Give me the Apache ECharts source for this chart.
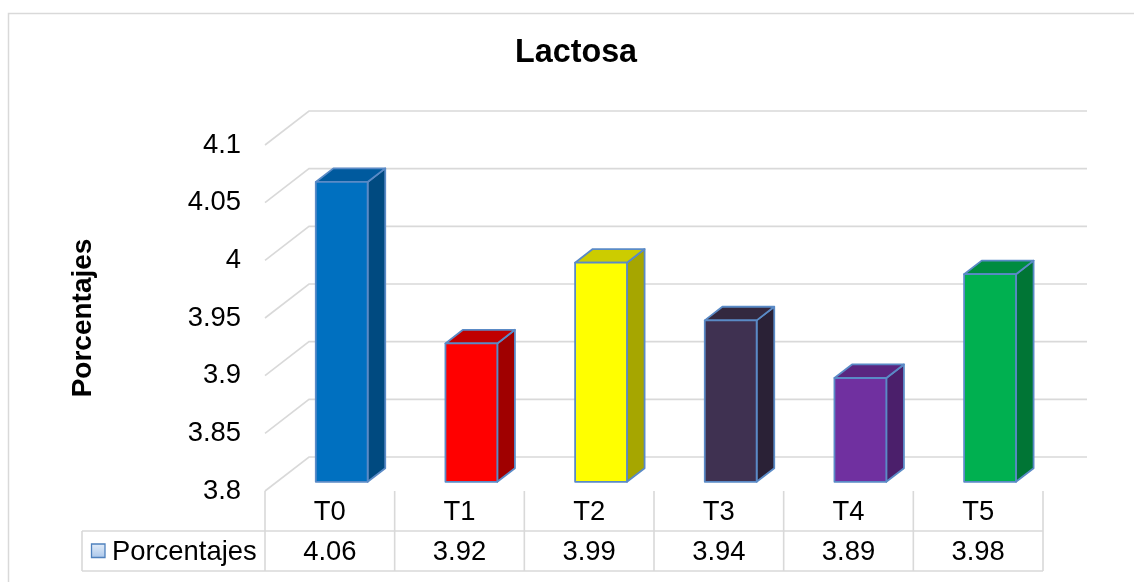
<!DOCTYPE html>
<html>
<head>
<meta charset="utf-8">
<script src="https://cdn.jsdelivr.net/npm/echarts@6/dist/echarts.min.js"></script>
<style>
  html, body { margin: 0; padding: 0; background: #ffffff; }
  #chart { width: 1134px; height: 582px; }
</style>
</head>
<body>
<div id="chart"></div>
<script>
// ---- data ----
const categories = ['T0', 'T1', 'T2', 'T3', 'T4', 'T5'];
const porcentajes = [4.06, 3.92, 3.99, 3.94, 3.89, 3.98];
const yTicks = [3.8, 3.85, 3.9, 3.95, 4, 4.05, 4.1];
const seriesName = 'Porcentajes';
const chartTitle = 'Lactosa';

// ---- styling ----
const FONT = '"Liberation Sans", Arial, Helvetica, sans-serif';
const TEXT_SIZE = 27.4;
const GRID_COLOR = '#d9d9d9';
const EDGE_COLOR = '#5a8ac6';
// front / top / side shade of every column
const barShades = [
  ['#0070c0', '#005a9e', '#004a80'],
  ['#ff0000', '#c00000', '#a00000'],
  ['#ffff00', '#cccc00', '#a6a600'],
  ['#3f3151', '#33283f', '#2a2136'],
  ['#7030a0', '#5a2680', '#4b1f6b'],
  ['#00b050', '#008c40', '#007535']
];
// oblique projection of the plot depth (pixels from front plane to back wall)
const DEPTH = [44, -34];
const BAR_FRONT = 0.27;   // depth fraction where column front face sits
const BAR_BACK = 0.67;    // depth fraction where column back face sits
const BAR_WIDTH = 0.4;    // share of category width
const TABLE_ROW1 = 531;   // y of line between category row and value row
const TABLE_BOTTOM = 571;
const TABLE_LEFT = 82;

const chart = echarts.init(document.getElementById('chart'), null, { renderer: 'canvas' });

function gridRenderItem(params, api) {
  const cs = params.coordSys;
  const p = api.coord([0, api.value(1)]);
  const x0 = cs.x, y = p[1];
  return {
    type: 'polyline',
    shape: { points: [[x0, y], [x0 + DEPTH[0], y + DEPTH[1]], [x0 + cs.width + DEPTH[0], y + DEPTH[1]]] },
    style: { stroke: GRID_COLOR, lineWidth: 1.6, fill: null },
    silent: true
  };
}

function barRenderItem(params, api) {
  const i = api.value(0);
  const v = api.value(1);
  const base = api.coord([i, yTicks[0]]);
  const top = api.coord([i, v]);
  const catW = api.size([1, 0])[0];
  const w = catW * BAR_WIDTH;
  const fx = DEPTH[0] * BAR_FRONT, fy = DEPTH[1] * BAR_FRONT;
  const dx = DEPTH[0] * (BAR_BACK - BAR_FRONT), dy = DEPTH[1] * (BAR_BACK - BAR_FRONT);
  const x0 = base[0] - w / 2 + fx, x1 = x0 + w;
  const yb = base[1] + fy, yt = top[1] + fy;
  const shade = barShades[params.dataIndex];
  const edge = { stroke: EDGE_COLOR, lineWidth: 1.8, lineJoin: 'round' };
  return {
    type: 'group',
    children: [
      { type: 'polygon', shape: { points: [[x1, yt], [x1 + dx, yt + dy], [x1 + dx, yb + dy], [x1, yb]] },
        style: Object.assign({ fill: shade[2] }, edge) },
      { type: 'polygon', shape: { points: [[x0, yt], [x1, yt], [x1 + dx, yt + dy], [x0 + dx, yt + dy]] },
        style: Object.assign({ fill: shade[1] }, edge) },
      { type: 'rect', shape: { x: x0, y: yt, width: w, height: yb - yt },
        style: Object.assign({ fill: shade[0] }, edge) }
    ]
  };
}

function tableRenderItem(params, api) {
  const i = api.value(0);
  const v = api.value(1);
  const base = api.coord([i, yTicks[0]]);
  const catW = api.size([1, 0])[0];
  const left = base[0] - catW / 2, right = base[0] + catW / 2;
  const lineStyle = { stroke: GRID_COLOR, lineWidth: 1.6 };
  const children = [
    { type: 'line', shape: { x1: left, y1: base[1], x2: left, y2: TABLE_BOTTOM }, style: lineStyle },
    { type: 'text', style: { text: categories[params.dataIndex], x: base[0], y: (base[1] + TABLE_ROW1) / 2 + 1,
        align: 'center', verticalAlign: 'middle', fill: '#000', font: TEXT_SIZE + 'px ' + FONT } },
    { type: 'text', style: { text: v.toFixed(2), x: base[0], y: (TABLE_ROW1 + TABLE_BOTTOM) / 2 + 1,
        align: 'center', verticalAlign: 'middle', fill: '#000', font: TEXT_SIZE + 'px ' + FONT } }
  ];
  if (params.dataIndex === categories.length - 1) {
    children.push({ type: 'line', shape: { x1: right, y1: base[1], x2: right, y2: TABLE_BOTTOM }, style: lineStyle });
  }
  return { type: 'group', children: children };
}

const option = {
  animation: false,
  backgroundColor: '#ffffff',
  title: {
    text: chartTitle,
    left: 515,
    top: 37,
    padding: 0,
    textStyle: { fontFamily: FONT, fontSize: 32.3, fontWeight: 'bold', color: '#000' }
  },
  grid: { left: 265, right: 91, top: 145, bottom: 91, containLabel: false },
  xAxis: {
    type: 'category',
    data: categories,
    axisLine: { show: false },
    axisTick: { show: false },
    axisLabel: { show: false },
    splitLine: { show: false }
  },
  yAxis: {
    type: 'value',
    min: yTicks[0],
    max: yTicks[yTicks.length - 1],
    interval: 0.05,
    name: seriesName,
    nameLocation: 'middle',
    nameRotate: 90,
    nameGap: 168,
    nameTextStyle: { fontFamily: FONT, fontSize: 28, fontWeight: 'bold', color: '#000' },
    axisLine: { show: false },
    axisTick: { show: false },
    splitLine: { show: false },
    axisLabel: {
      margin: 24,
      fontFamily: FONT, fontSize: TEXT_SIZE, color: '#000',
      formatter: function (val) { return String(+val.toFixed(2)); }
    }
  },
  series: [
    {
      type: 'custom', name: 'grid', z: 1, silent: true,
      renderItem: gridRenderItem,
      data: yTicks.map(function (t) { return [0, t]; })
    },
    {
      type: 'custom', name: seriesName, z: 3,
      renderItem: barRenderItem,
      data: porcentajes.map(function (v, i) { return [i, v]; })
    },
    {
      type: 'custom', name: 'table', z: 2, silent: true,
      renderItem: tableRenderItem,
      data: porcentajes.map(function (v, i) { return [i, v]; })
    }
  ],
  graphic: [
    // outer chart frame
    { type: 'rect', shape: { x: 8.5, y: 13.5, width: 1200, height: 700 },
      style: { fill: null, stroke: GRID_COLOR, lineWidth: 1.5 }, silent: true, z: 0 },
    // data table horizontal rules and legend cell edge
    { type: 'line', shape: { x1: TABLE_LEFT, y1: TABLE_ROW1, x2: 1043, y2: TABLE_ROW1 },
      style: { stroke: GRID_COLOR, lineWidth: 1.6 }, silent: true },
    { type: 'line', shape: { x1: TABLE_LEFT, y1: TABLE_BOTTOM, x2: 1043, y2: TABLE_BOTTOM },
      style: { stroke: GRID_COLOR, lineWidth: 1.6 }, silent: true },
    { type: 'line', shape: { x1: TABLE_LEFT, y1: TABLE_ROW1, x2: TABLE_LEFT, y2: TABLE_BOTTOM },
      style: { stroke: GRID_COLOR, lineWidth: 1.6 }, silent: true },
    // legend key
    { type: 'rect', shape: { x: 91.5, y: 544, width: 13.5, height: 13.5 },
      style: {
        fill: new echarts.graphic.LinearGradient(0, 0, 0, 1, [
          { offset: 0, color: '#e3edf9' }, { offset: 1, color: '#a9c6ea' }
        ]),
        stroke: '#4f81bd', lineWidth: 1.3
      }, silent: true },
    { type: 'text', x: 112, y: 552, silent: true,
      style: { text: seriesName, font: TEXT_SIZE + 'px ' + FONT, fill: '#000', verticalAlign: 'middle', align: 'left' } }
  ]
};

chart.setOption(option);
</script>
</body>
</html>
